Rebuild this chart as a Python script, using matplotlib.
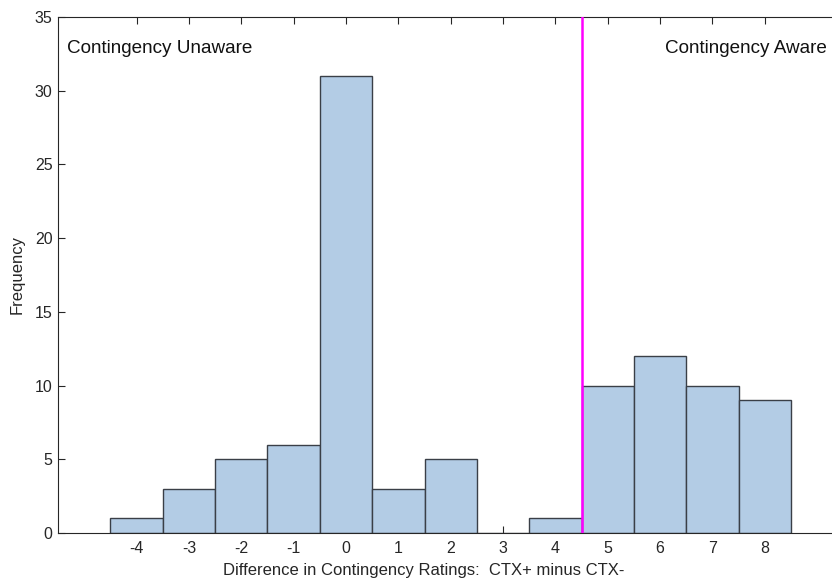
import matplotlib
matplotlib.use("Agg")
import matplotlib.pyplot as plt

plt.rcParams['font.family'] = ['Liberation Sans', 'DejaVu Sans']
plt.rcParams['axes.unicode_minus'] = False

# histogram of rating differences
diffs = [-4, -3, -2, -1, 0, 1, 2, 3, 4, 5, 6, 7, 8]
counts = [1, 3, 5, 6, 31, 3, 5, 0, 1, 10, 12, 10, 9]
cutoff = 4.5
yticks = [0, 5, 10, 15, 20, 25, 30, 35]

fig = plt.figure(figsize=(8.32, 5.82), dpi=100)
# axes runs past the right edge of the figure, as in the cropped original
ax = fig.add_axes([0.0697, 0.0842, 0.944, 0.8866])

ax.bar(diffs, counts, width=1.0, color='#b3cce5', edgecolor='#3a3f47', linewidth=1.0, zorder=2)
ax.axvline(cutoff, color='#ff00ff', linewidth=1.8, zorder=3)

ax.set_xlim(-5.5, 9.5)
ax.set_ylim(0, 35)
ax.set_xticks(diffs)
ax.set_yticks(yticks)

grey = '#262626'
for s in ax.spines.values():
    s.set_color(grey)
    s.set_linewidth(0.8)
ax.tick_params(direction='in', length=5, width=0.8, color=grey, labelcolor=grey,
               labelsize=11.5, top=True, right=True)
ax.tick_params(axis='x', pad=6)
ax.tick_params(axis='y', pad=4)

ax.text(-5.33, 32.85, 'Contingency Unaware', fontsize=13.6, color='#111111', va='center', ha='left')
ax.text(6.1, 32.85, 'Contingency Aware', fontsize=13.6, color='#111111', va='center', ha='left')

ax.set_xlabel('Difference in Contingency Ratings:  CTX+ minus CTX-', fontsize=12, color=grey)
ax.xaxis.set_label_coords(0.465, -0.058)
ax.set_ylabel('Frequency', fontsize=12, color=grey)
ax.yaxis.set_label_coords(-0.042, 0.5)

fig.savefig('out.png', dpi=100)
